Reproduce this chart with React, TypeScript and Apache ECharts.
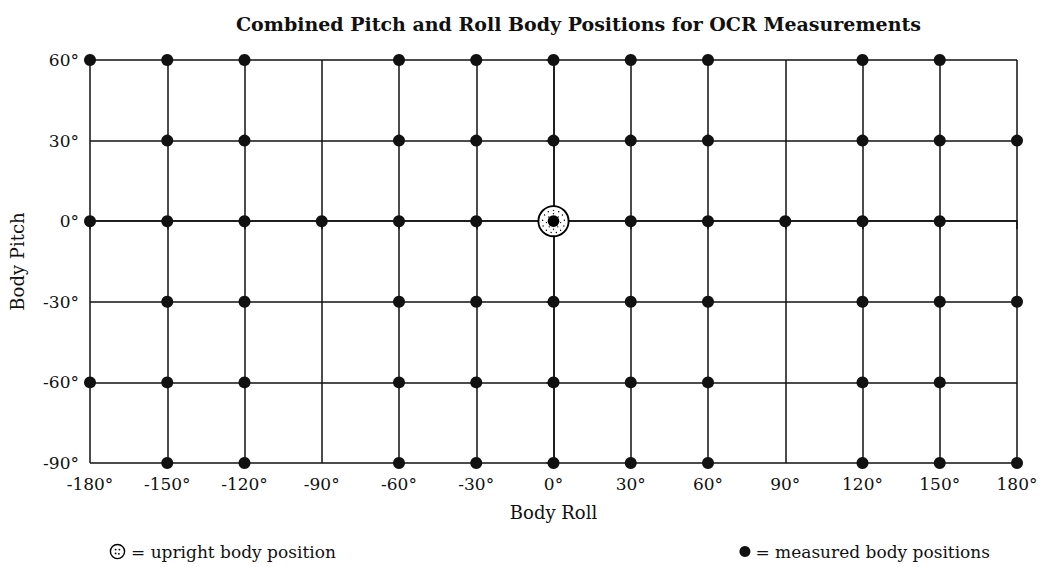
import React, { useEffect, useRef } from "react";
import * as echarts from "echarts";

// Axis ticks (degrees)
const rollTicks = [-180, -150, -120, -90, -60, -30, 0, 30, 60, 90, 120, 150, 180];
const pitchTicks = [-90, -60, -30, 0, 30, 60];

// Measured body positions: roll values present on each pitch row
const rollsAtPitch60 = [-180, -150, -120, -60, -30, 0, 30, 60, 120, 150];
const rollsAtPitch30 = [-150, -120, -60, -30, 0, 30, 60, 120, 150, 180];
const rollsAtPitch0 = [-180, -150, -120, -90, -60, -30, 30, 60, 90, 120, 150];
const rollsAtPitchM30 = [-150, -120, -60, -30, 0, 30, 60, 120, 150, 180];
const rollsAtPitchM60 = [-180, -150, -120, -60, -30, 0, 30, 60, 120, 150];
const rollsAtPitchM90 = [-150, -120, -60, -30, 0, 30, 60, 120, 150, 180];

// Upright body position [roll, pitch]
const uprightPosition = [[0, 0]];

const rows: [number, number[]][] = [
  [60, rollsAtPitch60],
  [30, rollsAtPitch30],
  [0, rollsAtPitch0],
  [-30, rollsAtPitchM30],
  [-60, rollsAtPitchM60],
  [-90, rollsAtPitchM90],
];

const stipple = [
  [18, 6.5], [12.5, 8], [23.5, 8], [8.5, 11.5], [27.5, 11.5], [6.5, 17], [29.5, 17],
  [7, 23], [29, 23], [10.5, 27.5], [25.5, 27.5], [15.5, 30], [21, 30], [13, 13.5],
  [23, 13.5], [10.5, 19.5], [25.5, 19.5], [18, 10], [13.5, 24], [22.5, 24], [18, 26.5],
];
const uprightSvg =
  '<svg xmlns="http://www.w3.org/2000/svg" width="36" height="36" viewBox="0 0 36 36">' +
  '<circle cx="18" cy="18" r="16" fill="white" stroke="black" stroke-width="2"/>' +
  stipple.map(([x, y]) => `<circle cx="${x}" cy="${y}" r="0.75" fill="black"/>`).join("") +
  '<circle cx="18" cy="18" r="6.2" fill="black"/>' +
  "</svg>";
const uprightSymbol = "image://data:image/svg+xml;utf8," + encodeURIComponent(uprightSvg);

const legendSvg =
  '<svg xmlns="http://www.w3.org/2000/svg" width="36" height="36" viewBox="0 0 36 36">' +
  '<circle cx="18" cy="18" r="15" fill="white" stroke="black" stroke-width="3"/>' +
  '<circle cx="14" cy="14" r="2" fill="black"/><circle cx="22" cy="14" r="2" fill="black"/>' +
  '<circle cx="14" cy="22" r="2" fill="black"/><circle cx="21" cy="23" r="2" fill="black"/>' +
  "</svg>";
const legendUprightSymbol = "image://data:image/svg+xml;utf8," + encodeURIComponent(legendSvg);

const FONT = "'DejaVu Serif', 'Liberation Serif', serif";

export default function App() {
  const ref = useRef<HTMLDivElement>(null);
  useEffect(() => {
    if (!ref.current) return;
    const chart = echarts.init(ref.current, undefined, { renderer: "svg" });
    const measured: number[][] = [];
    rows.forEach(([pitch, rolls]) => rolls.forEach((r) => measured.push([r, pitch])));
    const black = "#111";
    chart.setOption({
      animation: false,
      backgroundColor: "#fff",
      textStyle: { fontFamily: FONT, color: black },
      title: {
        text: "Combined Pitch and Roll Body Positions for OCR Measurements",
        left: 231,
        top: 9,
        textStyle: { fontFamily: FONT, fontSize: 19, fontWeight: "bold", color: black },
      },
      grid: { left: 88, right: 24, top: 60, bottom: 104, containLabel: false },
      legend: [
        {
          left: 104,
          top: 538,
          selectedMode: false,
          itemWidth: 17,
          itemHeight: 17,
          formatter: "= {name}",
          textStyle: { fontFamily: FONT, fontSize: 17, color: black },
          data: [{ name: "upright body position", icon: legendUprightSymbol }],
        },
        {
          right: 46,
          top: 538,
          selectedMode: false,
          itemWidth: 11,
          itemHeight: 11,
          formatter: "= {name}",
          textStyle: { fontFamily: FONT, fontSize: 17, color: black },
          data: [{ name: "measured body positions", icon: "circle" }],
        },
      ],
      xAxis: {
        type: "value",
        min: rollTicks[0],
        max: rollTicks[rollTicks.length - 1],
        interval: 30,
        name: "Body Roll",
        nameLocation: "middle",
        nameGap: 40,
        nameTextStyle: { fontFamily: FONT, fontSize: 18, color: black },
        axisLine: { show: true, lineStyle: { color: black, width: 1.5 } },
        axisTick: { show: true, length: 8, lineStyle: { color: black, width: 1.5 } },
        axisLabel: { formatter: "{value}°", fontSize: 17, color: black, margin: 12, fontFamily: FONT },
        splitLine: { show: true, lineStyle: { color: black, width: 1.5 } },
      },
      yAxis: {
        type: "value",
        min: pitchTicks[0],
        max: pitchTicks[pitchTicks.length - 1],
        interval: 30,
        name: "Body Pitch",
        nameLocation: "middle",
        nameGap: 64,
        nameRotate: 90,
        nameTextStyle: { fontFamily: FONT, fontSize: 18, color: black },
        axisLine: { show: true, lineStyle: { color: black, width: 1.5 } },
        axisTick: { show: true, length: 7, lineStyle: { color: black, width: 1.5 } },
        axisLabel: { formatter: "{value}°", fontSize: 17, color: black, margin: 11, fontFamily: FONT },
        splitLine: { show: true, lineStyle: { color: black, width: 1.5 } },
      },
      series: [
        {
          name: "measured body positions",
          type: "scatter",
          symbol: "circle",
          symbolSize: 12,
          itemStyle: { color: black, opacity: 1 },
          data: measured,
          z: 3,
        },
        {
          name: "upright body position",
          type: "scatter",
          symbol: uprightSymbol,
          symbolSize: 34,
          itemStyle: { color: black, opacity: 1 },
          data: uprightPosition,
          z: 4,
        },
      ],
    });
    return () => chart.dispose();
  }, []);
  return (
    <div
      ref={ref}
      style={{ position: "fixed", left: 0, top: 0, width: 1041, height: 567, background: "#fff" }}
    />
  );
}
